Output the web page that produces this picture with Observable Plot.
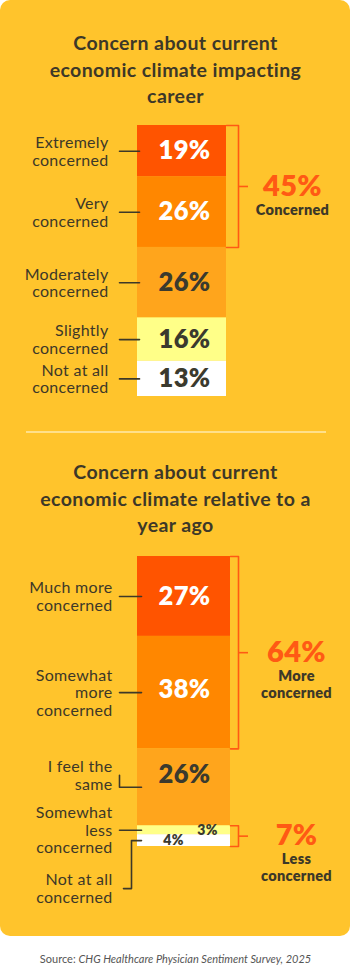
<!DOCTYPE html>
<html><head><meta charset="utf-8">
<script src="https://cdn.jsdelivr.net/npm/d3@7"></script>
<script src="https://cdn.jsdelivr.net/npm/@observablehq/plot@0.6"></script>
<style>
body{margin:0;background:#fff;font-family:Lato,"Open Sans",sans-serif;}
#wrap{position:relative;width:351px;height:967px;overflow:hidden;}
#card{position:absolute;left:0;top:0;width:350px;height:936px;border-radius:10px;background:#FFC42C;}
.title{position:absolute;left:0;width:351px;text-align:center;font-weight:700;font-size:19.5px;letter-spacing:0.4px;line-height:26.5px;color:#3d3828;}
.chart{position:absolute;left:0;}
#sep{position:absolute;left:26px;width:300px;top:431px;height:1.5px;background:#FFE08A;}
#source{position:absolute;left:0;width:351px;top:952px;text-align:center;font-size:11px;color:#555;}
</style></head>
<body>
<div id="wrap">
  <div id="card"></div>
  <div class="title" id="t1" style="top:30px"></div>
  <div id="sep"></div>
  <div class="title" id="t2" style="top:459px"></div>
  <div class="chart" id="c1" style="top:110px"></div>
  <div class="chart" id="c2" style="top:540px"></div>
  <div id="source"></div>
</div>
<script>
// ---------- data ----------
const title1Lines = ["Concern about current", "economic climate impacting", "career"];
const categories1 = ["Extremely\nconcerned", "Very\nconcerned", "Moderately\nconcerned", "Slightly\nconcerned", "Not at all\nconcerned"];
const values1 = [19, 26, 26, 16, 13];
const groupLabels1 = ["Concerned"];
const groupValues1 = [45];
const groupFrom1 = [0];
const groupTo1 = [1];

const title2Lines = ["Concern about current", "economic climate relative to a", "year ago"];
const categories2 = ["Much more\nconcerned", "Somewhat\nmore\nconcerned", "I feel the\nsame", "Somewhat\nless\nconcerned", "Not at all\nconcerned"];
const values2 = [27, 38, 26, 3, 4];
const groupLabels2 = ["More\nconcerned", "Less\nconcerned"];
const groupValues2 = [64, 7];
const groupFrom2 = [0, 3];
const groupTo2 = [1, 4];

const sourcePrefix = "Source: ";
const sourceText = "CHG Healthcare Physician Sentiment Survey, 2025";

// ---------- styles ----------
const fills = ["#FF5400", "#FF8700", "#FFA51C", "#FFFF88", "#FFFFFF"];
const valueColors = ["#FFFFFF", "#FFFFFF", "#3b3a2e", "#3b3a2e", "#3b3a2e"];
const dark = "#3d3828";
const accent = "#FF5A14";

document.getElementById("t1").innerHTML = title1Lines.join("<br>");
document.getElementById("t2").innerHTML = title2Lines.join("<br>");
document.getElementById("source").innerHTML = sourcePrefix + "<i>" + sourceText + "</i>";

function drawChart(el, cats, vals, gLabels, gValues, gFrom, gTo, L) {
  const total = d3.sum(vals);
  const ends = d3.cumsum(vals);
  const pxPerUnit = (L.y1px - L.y0px) / total;
  const rows = vals.map((v, i) => {
    const mid = ends[i] - v / 2;
    const off = (L.labelOffset[i] || 0) / pxPerUnit;
    return {
      i, cat: cats[i], v, y1: ends[i] - v, y2: ends[i], mid,
      labelY: mid + off,
      valueY: mid + (L.valueNudge[i] || 0) / pxPerUnit,
      valueX: L.valueXOverride[i] != null ? L.valueXOverride[i] : L.valueX,
      small: v < L.smallBelow,
      fill: fills[i], tcolor: valueColors[i]
    };
  });
  const elbowed = new Set(L.elbowRows || []);
  const leaders = [];
  rows.forEach(r => {
    const el = elbowed.has(r.i);
    const ex = el ? L.elbowX : L.leadX1;
    leaders.push({k: r.i, x: el ? L.elbowStartX : L.leadX1, y: r.labelY});
    leaders.push({k: r.i, x: ex, y: r.labelY});
    leaders.push({k: r.i, x: ex, y: r.mid});
    leaders.push({k: r.i, x: L.leadX2, y: r.mid});
  });
  const groups = gLabels.map((g, j) => {
    const a = rows[gFrom[j]].y1, b = rows[gTo[j]].y2;
    return {j, label: g, value: gValues[j], a, b, mid: (a + b) / 2};
  });
  const brackets = [];
  groups.forEach(g => {
    brackets.push({j: g.j, x: L.barX2, y: g.a});
    brackets.push({j: g.j, x: L.bracketX, y: g.a});
    brackets.push({j: g.j, x: L.bracketX, y: g.b});
    brackets.push({j: g.j, x: L.barX2, y: g.b});
  });
  const plot = Plot.plot({
    width: 351, height: L.height,
    margin: 0,
    x: {domain: [0, 351], range: [0, 351], axis: null},
    y: {domain: [0, total], range: [L.y0px, L.y1px], axis: null},
    style: {background: "transparent", fontFamily: "Lato, 'Open Sans', sans-serif", overflow: "visible", letterSpacing: "0.3px"},
    marks: [
      Plot.rect(rows, {x1: () => L.barX1, x2: () => L.barX2, y1: "y1", y2: "y2", fill: "fill"}),
      Plot.line(leaders, {x: "x", y: "y", z: "k", stroke: dark, strokeWidth: 1.6, curve: "linear"}),
      Plot.text(rows, {x: () => L.labelX, y: "labelY", text: "cat", textAnchor: "end", lineAnchor: "middle",
        fontSize: 16, fill: dark, lineHeight: 1.1}),
      Plot.text(rows, {x: "valueX", y: "valueY", text: d => d.v + "%", fill: "tcolor",
        fontSize: d => d.small ? 14 : 25.5, fontWeight: 800, lineAnchor: "middle"}),
      Plot.line(brackets, {x: "x", y: "y", z: "j", stroke: accent, strokeWidth: 1.6}),
      Plot.ruleY(groups, {y: "mid", x1: () => L.bracketX, x2: () => L.bracketX + 10, stroke: accent, strokeWidth: 1.6}),
      Plot.text(groups, {x: () => L.groupX, y: "mid", text: d => d.value + "%", fill: accent,
        fontSize: 29, fontWeight: 800, lineAnchor: "middle"}),
      Plot.text(groups, {x: () => L.groupX, y: "mid", dy: 16, text: "label", fill: dark,
        fontSize: 14.5, fontWeight: 800, lineAnchor: "top", lineHeight: 1.18})
    ]
  });
  el.appendChild(plot);
}

drawChart(document.getElementById("c1"), categories1, values1, groupLabels1, groupValues1, groupFrom1, groupTo1, {
  height: 300, y0px: 15, y1px: 286,
  barX1: 137, barX2: 226, bracketX: 238, groupX: 292,
  labelX: 108, leadX1: 119, leadX2: 139, elbowX: 131, elbowStartX: 123,
  valueX: 184, valueXOverride: {}, valueNudge: [], labelOffset: [], smallBelow: 5
});
drawChart(document.getElementById("c2"), categories2, values2, groupLabels2, groupValues2, groupFrom2, groupTo2, {
  height: 380, y0px: 16, y1px: 306,
  barX1: 137, barX2: 230, bracketX: 238, groupX: 296,
  labelX: 112, leadX1: 119, leadX2: 141, elbowX: 131, elbowStartX: 123, elbowRows: [4],
  valueX: 184, valueXOverride: {3: 207, 4: 173}, valueNudge: [0, -3, -12, 0, 0], labelOffset: [0, 0, -12, 0, 48], smallBelow: 5
});
</script>
</body></html>
